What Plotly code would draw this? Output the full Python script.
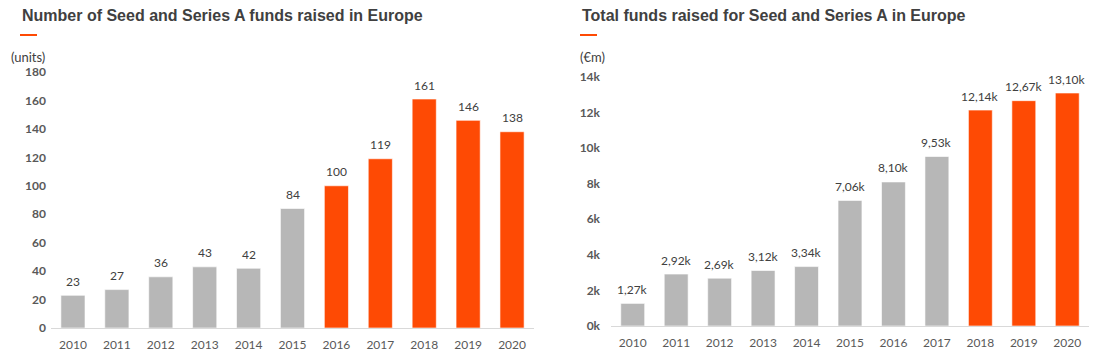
import plotly.graph_objects as go

years = ["2010", "2011", "2012", "2013", "2014", "2015", "2016", "2017", "2018", "2019", "2020"]
funds_count = [23, 27, 36, 43, 42, 84, 100, 119, 161, 146, 138]
funds_total = [1270, 2920, 2690, 3120, 3340, 7060, 8100, 9530, 12140, 12670, 13100]
count_labels = [str(v) for v in funds_count]
total_labels = ["1,27k", "2,92k", "2,69k", "3,12k", "3,34k", "7,06k", "8,10k", "9,53k", "12,14k", "12,67k", "13,10k"]
left_ticks = [0, 20, 40, 60, 80, 100, 120, 140, 160, 180]
right_ticks = [0, 2000, 4000, 6000, 8000, 10000, 12000, 14000]
right_ticktext = ["0k", "2k", "4k", "6k", "8k", "10k", "12k", "14k"]

GREY = "#b7b7b7"
ORANGE = "#fe4a04"
W, H = 1099, 359

left_colors = [GREY] * 6 + [ORANGE] * 5
right_colors = [GREY] * 8 + [ORANGE] * 3

label_font = dict(family="Lato, Open Sans, sans-serif", size=12, color="#404040")

fig = go.Figure()
fig.add_trace(go.Bar(
    x=years, y=funds_count, marker=dict(color=left_colors, line=dict(color="rgba(255,255,255,0.6)", width=1)),
    xaxis="x", yaxis="y", showlegend=False, hoverinfo="skip"))
fig.add_trace(go.Bar(
    x=years, y=funds_total, marker=dict(color=right_colors, line=dict(color="rgba(255,255,255,0.6)", width=1)),
    xaxis="x2", yaxis="y2", showlegend=False, hoverinfo="skip"))

# value labels: on a category axis, numeric-looking names are read as indices, so use the index
for i, (v, t) in enumerate(zip(funds_count, count_labels)):
    fig.add_annotation(x=i, y=v, xref="x", yref="y", text=t, showarrow=False,
                       yanchor="middle", yshift=14, font=label_font)
for i, (v, t) in enumerate(zip(funds_total, total_labels)):
    fig.add_annotation(x=i, y=v, xref="x2", yref="y2", text=t, showarrow=False,
                       yanchor="middle", yshift=14, font=label_font)

def px_x(p):
    return p / W

def px_y(p):
    return (H - p) / H

tickfont_y = dict(family="Lato, Open Sans, sans-serif", size=12, color="#595959", weight="bold")
tickfont_x = dict(family="Lato, Open Sans, sans-serif", size=12, color="#595959")
xrange = [-0.5, len(years) - 0.5]

fig.update_layout(
    width=W, height=H, margin=dict(l=0, r=0, t=0, b=0, autoexpand=False),
    paper_bgcolor="white", plot_bgcolor="white", bargap=0.45,
    xaxis=dict(type="category", range=xrange, domain=[px_x(51), px_x(534)], anchor="y", showgrid=False,
               showline=True, automargin=False, linecolor="#d9d9d9", linewidth=1, ticks="",
               tickfont=tickfont_x, ticklabelstandoff=6),
    yaxis=dict(domain=[px_y(328), px_y(72)], anchor="x", range=[0, 180], tickvals=left_ticks, automargin=False,
               showgrid=False, zeroline=False, showline=False, tickfont=tickfont_y, ticklabelstandoff=4),
    xaxis2=dict(type="category", range=xrange, domain=[px_x(611), px_x(1089)], anchor="y2", showgrid=False,
                showline=True, automargin=False, linecolor="#d9d9d9", linewidth=1, ticks="",
                tickfont=tickfont_x, ticklabelstandoff=6),
    yaxis2=dict(domain=[px_y(326), px_y(77)], anchor="x2", range=[0, 14000], tickvals=right_ticks,
                ticktext=right_ticktext, showgrid=False, zeroline=False, showline=False, automargin=False,
                tickfont=tickfont_y, ticklabelstandoff=10),
)

title_font = dict(family="Liberation Sans, Arial, sans-serif", size=16, color="#404040", weight="bold")
unit_font = dict(family="Lato, Open Sans, sans-serif", size=13, color="#404040")
fig.add_annotation(x=px_x(20), y=px_y(15), xref="paper", yref="paper", xanchor="left", yanchor="middle",
                   text="Number of Seed and Series A funds raised in Europe", showarrow=False, font=title_font)
fig.add_annotation(x=px_x(580), y=px_y(15), xref="paper", yref="paper", xanchor="left", yanchor="middle",
                   text="Total funds raised for Seed and Series A in Europe", showarrow=False, font=title_font)
fig.add_annotation(x=px_x(9), y=px_y(57), xref="paper", yref="paper", xanchor="left", yanchor="middle",
                   text="(units)", showarrow=False, font=unit_font)
fig.add_annotation(x=px_x(578), y=px_y(57), xref="paper", yref="paper", xanchor="left", yanchor="middle",
                   text="(€m)", showarrow=False, font=unit_font)
for x0 in (20, 580):
    fig.add_shape(type="line", xref="paper", yref="paper", x0=px_x(x0), x1=px_x(x0 + 17),
                  y0=px_y(35), y1=px_y(35), line=dict(color=ORANGE, width=2))

fig.write_html("out.html", config={"displayModeBar": False},
               post_script="document.body.style.margin='0';document.body.style.overflow='hidden';")
